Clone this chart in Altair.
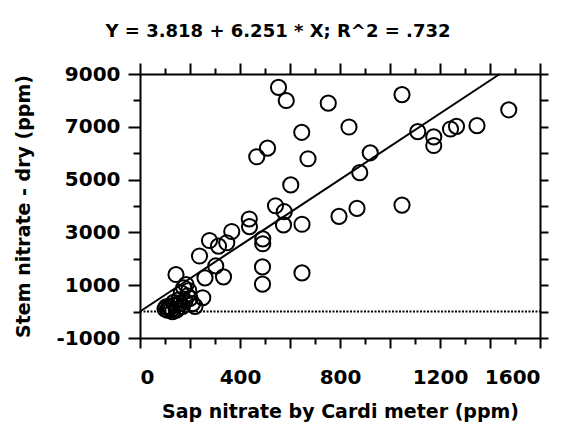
import altair as alt
import pandas as pd

# Scatter data (ppm)
sap_nitrate = [554, 585, 753, 1048, 1475, 836, 647, 1111, 1175, 1175, 1242, 1266, 1348,
               510, 467, 672, 921, 879, 603, 542, 577, 574, 648, 796, 868, 1048,
               437, 438, 367, 278, 314, 347, 491, 491, 238, 303, 334, 260, 490, 490,
               648, 144, 184, 251,
               100, 110, 120, 130, 115, 140, 150, 160, 170, 125, 105, 145, 180, 190,
               200, 165, 175, 210, 220, 155, 135, 195]
stem_nitrate = [8496, 7995, 7895, 8220, 7644, 6992, 6792, 6817, 6617, 6291, 6917, 7017, 7043,
                6190, 5865, 5789, 6015, 5263, 4800, 4010, 3784, 3283, 3308, 3609, 3910, 4035,
                3509, 3221, 3033, 2694, 2481, 2607, 2757, 2569, 2105, 1729, 1316, 1278, 1692, 1040,
                1466, 1404, 1028, 526,
                100, 50, 150, 0, 200, 250, 100, 300, 200, 80, 180, 50, 400, 600,
                500, 700, 900, 300, 200, 450, 350, 800]

# Regression reported in the title
intercept = 3.818
slope = 6.251
title_text = "Y = 3.818 + 6.251 * X; R^2 = .732"

x_domain = [0, 1600]
y_domain = [-1000, 9000]
x_ticks = list(range(0, 1700, 100))
y_ticks = list(range(-1000, 10000, 1000))

pts = pd.DataFrame({"sap": sap_nitrate, "stem": stem_nitrate})
x_end = (y_domain[1] - intercept) / slope
fit = pd.DataFrame({"sap": [0, x_end], "stem": [intercept, intercept + slope * x_end]})
zero = pd.DataFrame({"sap": x_domain, "stem": [0, 0]})

FONT = "DejaVu Sans"
xs = alt.Scale(domain=x_domain, nice=False, zero=False)
ys = alt.Scale(domain=y_domain, nice=False, zero=False)

common = dict(domainColor="black", domainWidth=2, tickColor="black", tickWidth=2,
              labelColor="black", labelFont=FONT, labelFontSize=20, labelFontWeight="bold",
              titleColor="black", titleFont=FONT, titleFontSize=19, titleFontWeight="bold",
              grid=False)

x_bottom = alt.Axis(orient="bottom", values=x_ticks,
                    labelExpr="datum.value % 400 == 0 ? '' + datum.value : ''",
                    tickSize={"condition": {"test": "datum.value % 200 == 0", "value": 10}, "value": 6},
                    labelPadding=19, title="Sap nitrate by Cardi meter (ppm)", titlePadding=15,
                    **common)
y_left = alt.Axis(orient="left", values=y_ticks,
                  labelExpr="(datum.value + 1000) % 2000 == 0 ? '' + datum.value : ''",
                  tickSize={"condition": {"test": "(datum.value + 1000) % 2000 == 0", "value": 12}, "value": 7},
                  labelPadding=8, title="Stem nitrate - dry (ppm)", titlePadding=23,
                  **common)
x_top = alt.Axis(orient="top", values=x_ticks, labels=False, title=None,
                 tickSize={"condition": {"test": "datum.value % 200 == 0", "value": 11}, "value": 6},
                 **common)
y_right = alt.Axis(orient="right", values=y_ticks, labels=False, title=None, tickSize=8,
                   **common)

points = alt.Chart(pts).mark_point(shape="circle", filled=False, color="black",
                                   size=230, strokeWidth=2, opacity=1).encode(
    x=alt.X("sap:Q", scale=xs, axis=x_bottom),
    y=alt.Y("stem:Q", scale=ys, axis=y_left),
)

line = alt.Chart(fit).mark_line(color="black", strokeWidth=2).encode(
    x=alt.X("sap:Q", scale=xs, axis=x_top),
    y=alt.Y("stem:Q", scale=ys, axis=y_right),
)

dotted = alt.Chart(zero).mark_line(color="black", strokeWidth=2, strokeDash=[2, 1.5]).encode(
    x=alt.X("sap:Q", scale=xs, axis=None),
    y=alt.Y("stem:Q", scale=ys, axis=None),
)

chart = alt.layer(dotted, line, points).resolve_axis(x="independent", y="independent").properties(
    width=400, height=264,
    autosize=alt.AutoSizeParams(type="none"),
    padding={"left": 132, "top": 66, "right": 23, "bottom": 85},
    title=alt.TitleParams(title_text, font=FONT, fontSize=18, fontWeight="bold", color="black",
                          anchor="middle", dx=-62, offset=21),
).configure_view(stroke="black", strokeWidth=2).configure(background="white")

chart.save("out.html", embed_options={"renderer": "svg", "actions": False})
